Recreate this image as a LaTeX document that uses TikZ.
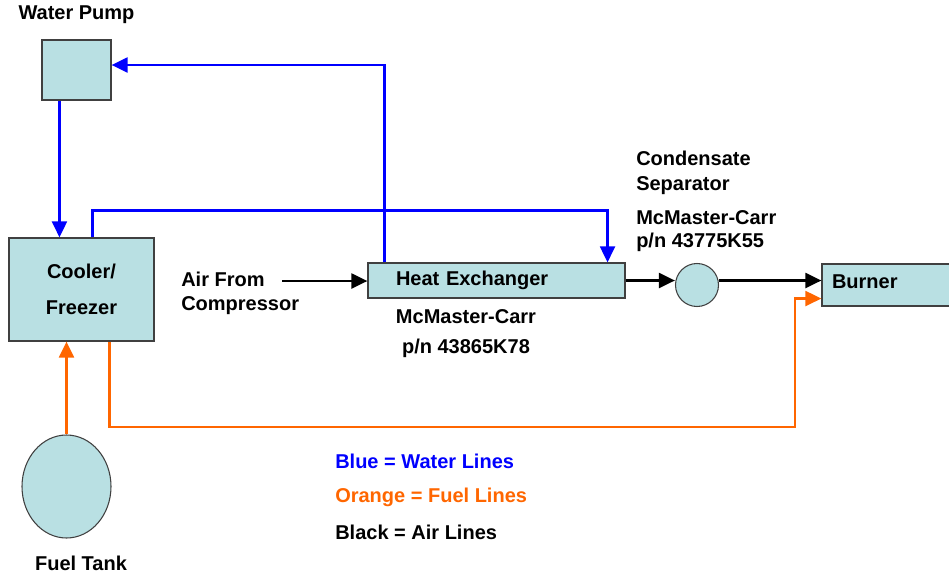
\documentclass[tikz,border=0pt]{standalone}
\usepackage{fontspec}
\setmainfont{Liberation Sans}
\usepackage{tikz}
\usetikzlibrary{arrows.meta,calc,shapes.geometric}
\definecolor{partfill}{RGB}{185,224,227}
\definecolor{partedge}{RGB}{64,64,64}
\definecolor{waterblue}{RGB}{0,0,255}
\definecolor{fuelorange}{RGB}{255,102,0}

\begin{document}
\begin{tikzpicture}[x=0.75pt, y=-0.75pt,
    part/.style={draw=partedge, fill=partfill, line width=0.8pt, inner sep=0pt,
      font=\fontsize{15}{18}\selectfont\bfseries},
    lbl/.style={inner sep=0pt, font=\fontsize{15}{#1}\selectfont\bfseries},
    lbl/.default=18pt,
    water/.style={line width=2.2pt, waterblue, -{Triangle[length=12pt,width=11pt]}},
    fuel/.style={line width=2.2pt, fuelorange, -{Triangle[length=12pt,width=11pt]}},
    air/.style={line width=2.2pt, black, -{Triangle[length=12pt,width=11pt]}}]
  \useasboundingbox (0,0) rectangle (949,575);
  % Components
  \node[part, minimum width=51.75pt, minimum height=45pt] (pump) at (76.5,70) {};
  \node[part, minimum width=108.75pt, minimum height=77.25pt, align=center,
    font=\fontsize{15}{27}\selectfont\bfseries] (cooler) at (81.5,289.5) {Cooler/\\Freezer};
  \node[part, minimum height=26.25pt, text width=150.75pt, inner xsep=21pt, align=left]
    (hx) at (496.5,280.5) {Heat Exchanger};
  \node[part, circle, minimum size=32.25pt] (sep) at (697,285) {};
  \node[part, minimum height=31.5pt, text width=90pt, inner xsep=7.5pt, align=left,
    text height=10.7pt, text depth=6pt] (burner) at (892,285) {Burner};
  \node[part, ellipse, minimum width=66.75pt, minimum height=77.25pt] (tank) at (66.5,486.5) {};
  % Labels
  \node[lbl] (pumplbl) at (76.5,15) {Water Pump};
  \node[lbl, anchor=west, align=left] (air) at (181,293) {Air From\\Compressor};
  \node[lbl=23pt, align=center] (hxpart) at (466,333.5) {McMaster-Carr\\p/n 43865K78};
  \node[lbl=18.75pt, anchor=west, align=left] (seplbl) at (636,172.5) {Condensate\\Separator};
  \node[lbl=17.25pt, anchor=west, align=left] (seppart) at (636,231.5) {McMaster-Carr\\p/n 43775K55};
  \node[lbl] (tanklbl) at (81,563) {Fuel Tank};
  % Legend
  \node[lbl, anchor=west, waterblue] (keywater) at (335,461) {Blue = Water Lines};
  \node[lbl, anchor=west, fuelorange] (keyfuel) at (335,497) {Orange = Fuel Lines};
  \node[lbl, anchor=west] (keyair) at (335,532) {Black = Air Lines};
  % Water lines
  \draw[water] ($(hx.north west)+(17,0)$) |- ($(pump.east)+(0,-5)$);
  \draw[water] ($(pump.south west)+(18,0)$) -- ($(cooler.north west)+(51,0)$);
  \draw[water] ($(cooler.north west)+(84,0)$) -- ++(0,-27) -| ($(hx.north east)+(-18,0)$);
  % Air lines
  \coordinate (airin) at (282,281);
  \draw[air] (airin) -- (airin -| hx.west);
  \draw[air] (hx.east) -- (hx.east -| sep.west);
  \draw[air] (hx.east -| sep.east) -- (hx.east -| burner.west);
  % Fuel lines
  \draw[fuel] (tank.north) -- (tank.north |- cooler.south);
  \coordinate (fbend) at (795,427);
  \draw[fuel] ($(cooler.south west)+(101,0)$) |- (fbend) |- ($(burner.south west)+(0,-8)$);
\end{tikzpicture}
\end{document}
